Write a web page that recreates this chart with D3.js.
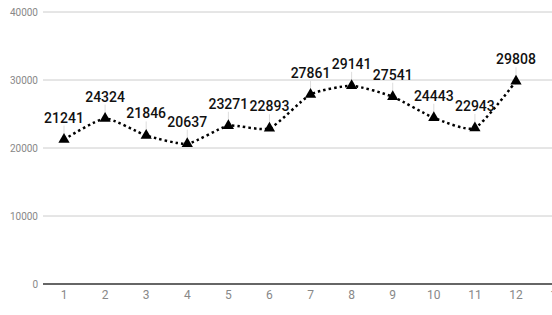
<!DOCTYPE html>
<html><head><meta charset="utf-8">
<script src="https://cdn.jsdelivr.net/npm/d3@7"></script>
<style>body{margin:0;background:#fff}svg{display:block}</style>
</head><body><svg id="c" width="552" height="315"></svg>
<script>
const months = [1,2,3,4,5,6,7,8,9,10,11,12];
const values = [21241,24324,21846,20637,23271,22893,27861,29141,27541,24443,22943,29808];
const yTicks = [0,10000,20000,30000,40000];
const xTicks = [1,2,3,4,5,6,7,8,9,10,11,12,13];

const svg = d3.select("#c");
const x = d3.scaleLinear().domain([1,12]).range([64,516]);
const y = d3.scaleLinear().domain([0,40000]).range([284,12]);

const left = 43, right = 552;
svg.append("g").selectAll("line").data(yTicks.filter(d=>d>0)).join("line")
  .attr("x1",left).attr("x2",right).attr("y1",d=>y(d)).attr("y2",d=>y(d))
  .attr("stroke","#cccccc").attr("stroke-width",1);
svg.append("line").attr("x1",left).attr("x2",right).attr("y1",y(0)).attr("y2",y(0))
  .attr("stroke","#333").attr("stroke-width",1.5);

svg.append("g").selectAll("text").data(yTicks).join("text")
  .attr("x",38).attr("y",d=>y(d)+3.5).attr("text-anchor","end")
  .attr("font-family","Roboto").attr("font-size",10).attr("fill","#888")
  .text(d=>d);

svg.append("g").selectAll("text").data(xTicks).join("text")
  .attr("x",d=>x(d)).attr("y",299).attr("text-anchor","middle")
  .attr("font-family","Roboto").attr("font-size",12).attr("fill","#888")
  .text(d=>d);

const pts = months.map((m,i)=>({m,v:values[i]}));
const line = d3.line().x(d=>x(d.m)).y(d=>y(d.v)).curve(d3.curveCardinal.tension(0.4));
svg.append("path").attr("d",line(pts)).attr("fill","none")
  .attr("stroke","#000").attr("stroke-width",2.5).attr("stroke-dasharray","2.5 3");

// leader lines
svg.append("g").selectAll("line").data(pts).join("line")
  .attr("x1",d=>x(d.m)).attr("x2",d=>x(d.m))
  .attr("y1",d=>y(d.v)-14).attr("y2",d=>y(d.v)-5)
  .attr("stroke","#ddd").attr("stroke-width",1);

svg.append("g").selectAll("path").data(pts).join("path")
  .attr("d",d3.symbol().type(d3.symbolTriangle).size(55))
  .attr("transform",d=>`translate(${x(d.m)},${y(d.v)})`)
  .attr("fill","#000");

svg.append("g").selectAll("text").data(pts).join("text")
  .attr("x",d=>x(d.m)).attr("y",d=>y(d.v)-17).attr("text-anchor","middle")
  .attr("font-family","Roboto").attr("font-weight",500).attr("font-size",14).attr("fill","#111")
  .text(d=>d.v);
</script></body></html>
